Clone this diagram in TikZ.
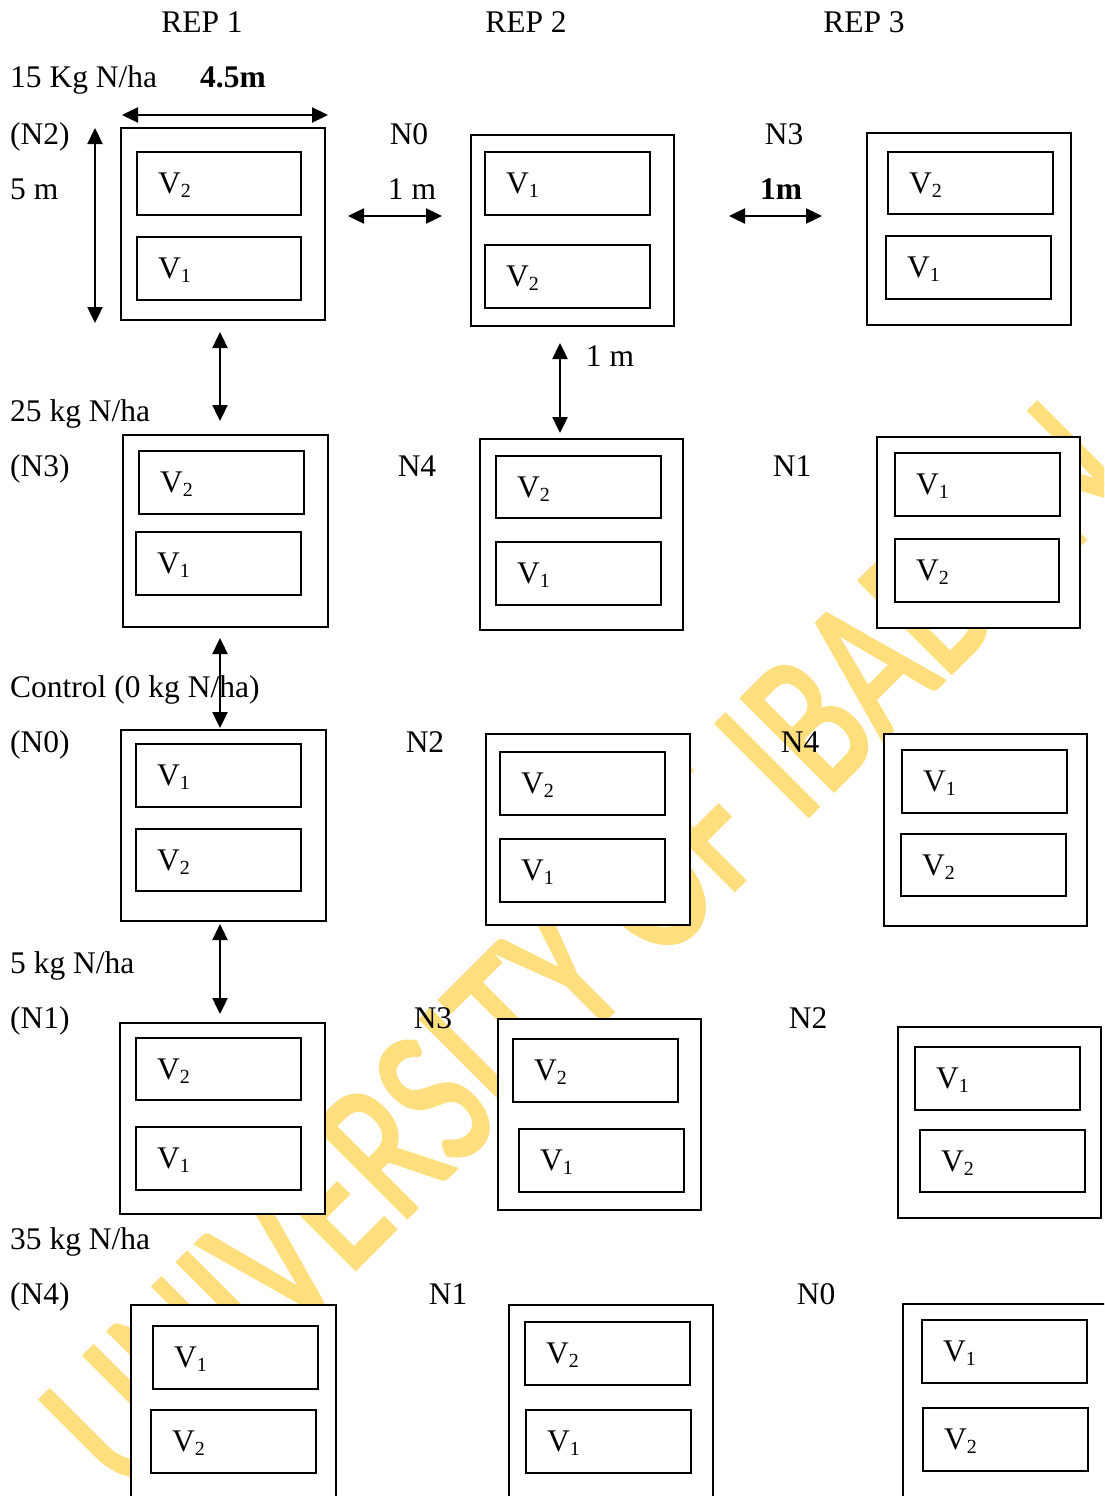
\documentclass[tikz,border=0pt]{standalone}
\usepackage{fontspec}
\setmainfont{Liberation Serif}
\newfontfamily\wmfont[FakeBold=2.2]{Carlito}
\usepackage{graphicx}
\usetikzlibrary{arrows.meta}
\definecolor{wmyellow}{RGB}{255,222,125}
\tikzset{
  outerbox/.style={draw=black, line width=2.6pt, fill=white},
  innerbox/.style={draw=black, line width=2.3pt, fill=white},
  lab/.style={inner sep=0pt, font=\fontsize{31.5}{36}\selectfont},
  dimarrow/.style={line width=2.4pt, {Triangle[length=16pt,width=15pt]}-{Triangle[length=16pt,width=15pt]}},
}
\newcommand\vsub[1]{\raisebox{-4pt}{\fontsize{20}{20}\selectfont #1}}
\newcommand\plotcell[5]{%
  \draw[innerbox] (#1,#2) rectangle (#3,#4);
  \node[lab, anchor=base west] (v-#1-#2) at ({#1+21},{(#2+#4)/2+10}) {V\vsub{#5}};}
\begin{document}
\begin{tikzpicture}[x=1pt,y=-1pt]
\useasboundingbox (0,0) rectangle (1104,1496);
\clip (0,0) rectangle (1104,1496);
\fill[white] (0,0) rectangle (1104,1496);
% watermark
\node[rotate=45, anchor=base west, inner sep=0pt, text=wmyellow] (wm) at (125,1499)
  {\scalebox{0.74}[1]{\wmfont\fontsize{202}{202}\selectfont UNIVERSITY OF IBADAN}};
% headers
\node[lab, anchor=base] (rep1) at (202,33) {REP 1};
\node[lab, anchor=base] (rep2) at (526,33) {REP 2};
\node[lab, anchor=base] (rep3) at (864,33) {REP 3};
% row 1
\node[lab, anchor=base west] (t15) at (10,88) {15 Kg N/ha};
\node[lab, anchor=base west] (t45) at (200,88) {\textbf{4.5m}};
\node[lab, anchor=base west] (tn2) at (10,144) {(N2)};
\node[lab, anchor=base west] (t5m) at (10,199) {5 m};
\node[lab, anchor=base] (r1n0) at (409,144) {N0};
\node[lab, anchor=base] (t1ma) at (412,199) {1 m};
\node[lab, anchor=base] (r1n3) at (784,144) {N3};
\node[lab, anchor=base] (t1mb) at (781,199) {\textbf{1m}};
\draw[outerbox] (121,128) rectangle (325,320);
\plotcell{137}{152}{301}{215}{2}
\plotcell{137}{237}{301}{300}{1}
\draw[outerbox] (471,135) rectangle (674,326);
\plotcell{485}{152}{650}{215}{1}
\plotcell{485}{245}{650}{308}{2}
\draw[outerbox] (867,133) rectangle (1071,325);
\plotcell{888}{152}{1053}{214}{2}
\plotcell{886}{236}{1051}{299}{1}
% dimension arrows
\coordinate (a45l) at (122,115); \coordinate (a45r) at (328,115);
\draw[dimarrow] (a45l) -- (a45r);
\coordinate (a5t) at (95,128); \coordinate (a5b) at (95,323);
\draw[dimarrow] (a5t) -- (a5b);
\coordinate (a1l) at (348,216); \coordinate (a1r) at (442,216);
\draw[dimarrow] (a1l) -- (a1r);
\coordinate (a1bl) at (729,216); \coordinate (a1br) at (822,216);
\draw[dimarrow] (a1bl) -- (a1br);
\coordinate (v1t) at (220,332); \coordinate (v1b) at (220,421);
\draw[dimarrow] (v1t) -- (v1b);
\coordinate (v2t) at (560,343); \coordinate (v2b) at (560,433);
\draw[dimarrow] (v2t) -- (v2b);
\node[lab, anchor=base] (t1mc) at (610,366) {1 m};
% row 2
\node[lab, anchor=base west] (t25) at (10,421) {25 kg N/ha};
\node[lab, anchor=base west] (tn3) at (10,476) {(N3)};
\node[lab, anchor=base] (r2n4) at (417,476) {N4};
\node[lab, anchor=base] (r2n1) at (792,476) {N1};
\draw[outerbox] (123,435) rectangle (328,627);
\plotcell{139}{451}{304}{514}{2}
\plotcell{136}{532}{301}{595}{1}
\draw[outerbox] (480,439) rectangle (683,630);
\plotcell{496}{456}{661}{518}{2}
\plotcell{496}{542}{661}{605}{1}
\draw[outerbox] (877,437) rectangle (1080,628);
\plotcell{895}{453}{1060}{516}{1}
\plotcell{895}{539}{1059}{602}{2}
% row 3
\node[lab, anchor=base west] (tctl) at (10,697) {Control (0 kg N/ha)};
\coordinate (v3t) at (220,638); \coordinate (v3b) at (220,728);
\draw[dimarrow] (v3t) -- (v3b);
\node[lab, anchor=base west] (tn0) at (10,752) {(N0)};
\node[lab, anchor=base] (r3n2) at (425,752) {N2};
\draw[outerbox] (121,730) rectangle (326,921);
\plotcell{136}{744}{301}{807}{1}
\plotcell{136}{829}{301}{891}{2}
\draw[outerbox] (486,734) rectangle (690,925);
\plotcell{500}{752}{665}{815}{2}
\plotcell{500}{839}{665}{902}{1}
\draw[outerbox] (884,734) rectangle (1087,926);
\plotcell{902}{750}{1067}{813}{1}
\plotcell{901}{834}{1066}{896}{2}
\node[lab, anchor=base] (r3n4) at (800,752) {N4};
% row 4
\coordinate (v4t) at (220,924); \coordinate (v4b) at (220,1014);
\draw[dimarrow] (v4t) -- (v4b);
\node[lab, anchor=base west] (t5) at (10,973) {5 kg N/ha};
\node[lab, anchor=base west] (tn1) at (10,1028) {(N1)};
\node[lab, anchor=base] (r4n3) at (433,1028) {N3};
\node[lab, anchor=base] (r4n2) at (808,1028) {N2};
\draw[outerbox] (120,1023) rectangle (325,1214);
\plotcell{136}{1038}{301}{1100}{2}
\plotcell{136}{1127}{301}{1190}{1}
\draw[outerbox] (498,1019) rectangle (701,1210);
\plotcell{513}{1039}{678}{1102}{2}
\plotcell{519}{1129}{684}{1192}{1}
\draw[outerbox] (898,1027) rectangle (1101,1218);
\plotcell{915}{1047}{1080}{1110}{1}
\plotcell{920}{1130}{1085}{1192}{2}
% row 5
\node[lab, anchor=base west] (t35) at (10,1249) {35 kg N/ha};
\node[lab, anchor=base west] (tn4) at (10,1304) {(N4)};
\node[lab, anchor=base] (r5n1) at (448,1304) {N1};
\node[lab, anchor=base] (r5n0) at (816,1304) {N0};
\draw[outerbox] (131,1305) rectangle (336,1510);
\plotcell{153}{1326}{318}{1389}{1}
\plotcell{151}{1410}{316}{1473}{2}
\draw[outerbox] (509,1305) rectangle (713,1510);
\plotcell{525}{1322}{690}{1385}{2}
\plotcell{526}{1410}{691}{1473}{1}
\draw[outerbox] (903,1304) rectangle (1115,1510);
\plotcell{922}{1320}{1087}{1383}{1}
\plotcell{923}{1408}{1088}{1471}{2}
\end{tikzpicture}
\end{document}
